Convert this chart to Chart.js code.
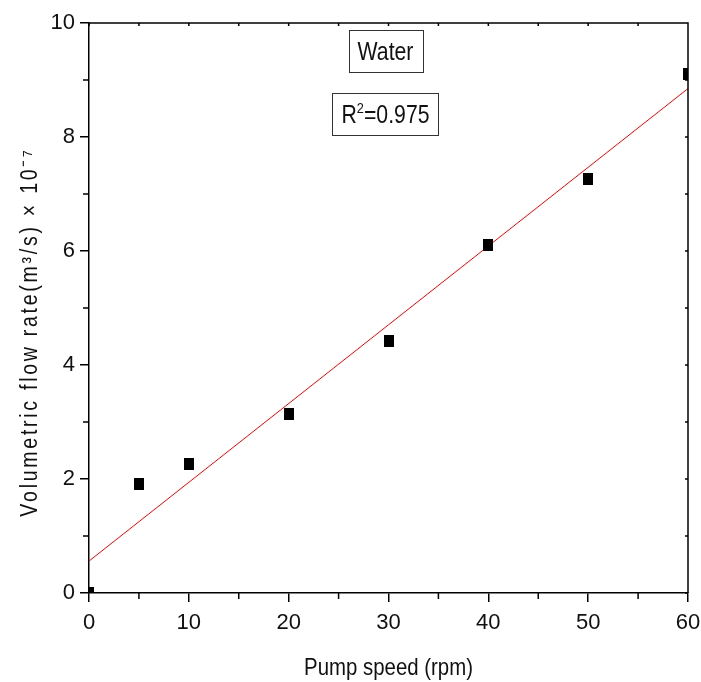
<!DOCTYPE html>
<html>
<head>
<meta charset="utf-8">
<script src="https://cdn.jsdelivr.net/npm/chart.js@4"></script>
<style>
  html, body { margin: 0; padding: 0; background: #fff; }
  #wrap { width: 701px; height: 682px; }
</style>
</head>
<body>
<div id="wrap"><canvas id="flowChart"></canvas></div>
<script>
'use strict';

// data
const pumpSpeed = [0, 5, 10, 20, 30, 40, 50, 60];
const flowRate = [0, 1.92, 2.26, 3.14, 4.42, 6.11, 7.27, 9.1];
const fitSpeed = [0, 60];
const fitRate = [0.56, 8.85];

const xTicks = [0, 10, 20, 30, 40, 50, 60];
const yTicks = [0, 2, 4, 6, 8, 10];
const xMinorTicks = [5, 15, 25, 35, 45, 55];
const yMinorTicks = [1, 3, 5, 7, 9];

const fluidName = 'Water';
const rSquared = '0.975';

const FONT = '"Liberation Sans Narrow", "Arial Narrow", "Liberation Sans", Arial, sans-serif';
const INK = '#111';
const SQUEEZE = 0.85; // narrow look for the hand drawn text

// black rectangle marker
const marker = document.createElement('canvas');
marker.width = 10;
marker.height = 12;
const mctx = marker.getContext('2d');
mctx.fillStyle = '#000';
mctx.fillRect(0, 0, 10, 12);

// frame, minor ticks, axis titles and the two labels
const decorPlugin = {
  id: 'decor',
  afterDraw(chart) {
    const {ctx, chartArea: a, scales: {x, y}} = chart;
    ctx.save();
    ctx.strokeStyle = '#000';
    ctx.lineWidth = 1.5;
    ctx.beginPath();
    ctx.moveTo(a.left, a.top);
    ctx.lineTo(a.right, a.top);
    ctx.lineTo(a.right, a.bottom);
    xMinorTicks.forEach(v => {
      const px = x.getPixelForValue(v);
      ctx.moveTo(px, a.bottom);
      ctx.lineTo(px, a.bottom + 6);
    });
    yMinorTicks.forEach(v => {
      const py = y.getPixelForValue(v);
      ctx.moveTo(a.left, py);
      ctx.lineTo(a.left - 6, py);
    });
    // small inward ticks on top and right
    xTicks.concat(xMinorTicks).forEach(v => {
      const px = x.getPixelForValue(v);
      ctx.moveTo(px, a.top);
      ctx.lineTo(px, a.top + 3);
    });
    yTicks.concat(yMinorTicks).forEach(v => {
      const py = y.getPixelForValue(v);
      ctx.moveTo(a.right, py);
      ctx.lineTo(a.right - 3, py);
    });
    ctx.stroke();

    ctx.fillStyle = INK;
    ctx.textBaseline = 'alphabetic';

    // x title
    ctx.save();
    ctx.translate((a.left + a.right) / 2, a.bottom + 82);
    ctx.scale(SQUEEZE, 1);
    ctx.font = '24px ' + FONT;
    ctx.textAlign = 'center';
    ctx.fillText('Pump speed (rpm)', 0, 0);
    ctx.restore();

    // y title
    ctx.save();
    ctx.translate(37, (a.top + a.bottom) / 2 + 24);
    ctx.rotate(-Math.PI / 2);
    ctx.scale(SQUEEZE, 1);
    ctx.font = '23px ' + FONT;
    ctx.textAlign = 'center';
    ctx.letterSpacing = '3.2px';
    ctx.fillText('Volumetric flow rate(m\u00B3/s) \u00D7 10\u207B\u2077', 0, 0);
    ctx.restore();

    // label boxes
    const drawBox = (cx, cy, parts) => {
      let w = 0;
      parts.forEach(p => {
        ctx.font = p.size + 'px ' + FONT;
        p.w = ctx.measureText(p.text).width * SQUEEZE;
        w += p.w;
      });
      const bw = w + 18, bh = 42;
      ctx.strokeStyle = '#333';
      ctx.lineWidth = 1;
      ctx.strokeRect(Math.round(cx - bw / 2) + 0.5, Math.round(cy - bh / 2) + 0.5, Math.round(bw), bh);
      let xx = cx - w / 2;
      ctx.textAlign = 'left';
      parts.forEach(p => {
        ctx.save();
        ctx.translate(xx, cy + 9 - (p.rise || 0));
        ctx.scale(SQUEEZE, 1);
        ctx.font = p.size + 'px ' + FONT;
        ctx.fillText(p.text, 0, 0);
        ctx.restore();
        xx += p.w;
      });
    };
    drawBox(x.getPixelForValue(29.7), y.getPixelForValue(9.51), [{text: fluidName, size: 25}]);
    drawBox(x.getPixelForValue(29.7), y.getPixelForValue(8.41), [
      {text: 'R', size: 25},
      {text: '2', size: 15, rise: 10},
      {text: '=' + rSquared, size: 25}
    ]);
    ctx.restore();
  }
};

const flowData = {
  datasets: [{
    label: fluidName,
    data: pumpSpeed.map((s, i) => ({x: s, y: flowRate[i]})),
    pointStyle: marker,
    borderWidth: 0,
    showLine: false
  },
  {
    label: 'Linear fit',
    data: fitSpeed.map((s, i) => ({x: s, y: fitRate[i]})),
    showLine: true,
    borderColor: '#ff0000',
    borderWidth: 1,
    pointRadius: 0
  }]
};

const flowConfig = {
  type: 'scatter',
  data: flowData,
  options: {
    responsive: true,
    maintainAspectRatio: false,
    animation: false,
    layout: { padding: { top: 23, right: 13, left: 0, bottom: 0 } },
    plugins: {
      legend: { display: false },
      tooltip: { enabled: false }
    },
    scales: {
      x: {
        type: 'linear',
        min: 0,
        max: 60,
        afterBuildTicks: scale => { scale.ticks = xTicks.map(v => ({value: v})); },
        afterFit: scale => {
          scale.height = 89;
          scale.paddingLeft = 0;
          scale.paddingRight = 0;
        },
        grid: { drawOnChartArea: false, drawTicks: true, tickLength: 9, color: '#000', lineWidth: 1.5 },
        border: { color: '#000', width: 1.5 },
        ticks: { color: INK, font: { family: FONT, size: 22 }, padding: 8, maxRotation: 0 }
      },
      y: {
        type: 'linear',
        min: 0,
        max: 10,
        afterBuildTicks: scale => { scale.ticks = yTicks.map(v => ({value: v})); },
        afterFit: scale => {
          scale.width = 89;
          scale.paddingTop = 0;
          scale.paddingBottom = 0;
        },
        grid: { drawOnChartArea: false, drawTicks: true, tickLength: 9, color: '#000', lineWidth: 1.5 },
        border: { color: '#000', width: 1.5 },
        ticks: { color: INK, font: { family: FONT, size: 22 }, padding: 5 }
      }
    }
  },
  plugins: [decorPlugin]
};

const flowChart = new Chart(document.getElementById('flowChart'), flowConfig);
</script>
</body>
</html>
